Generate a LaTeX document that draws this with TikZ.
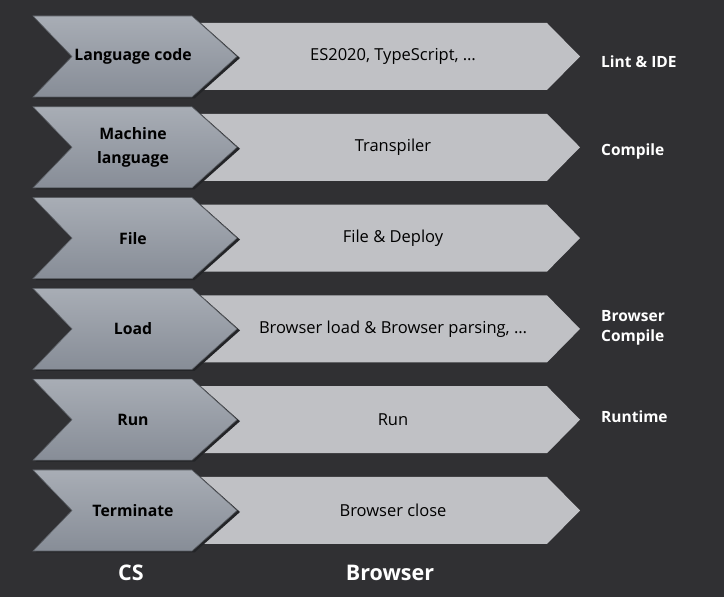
\documentclass[tikz,border=0pt]{standalone}
\usepackage{fontspec}
\setmainfont{Open Sans}
\definecolor{bg}{HTML}{303033}
\definecolor{lightfill}{HTML}{C0C1C5}
\definecolor{darktop}{HTML}{A8ADB5}
\definecolor{darkbot}{HTML}{878D97}
\definecolor{shadowc}{HTML}{232427}
\definecolor{edgec}{HTML}{5A5E64}
\tikzset{
  cslab/.style={font=\bfseries\fontsize{15.8}{23.5}\selectfont, text=black, align=center, inner sep=0pt},
  brlab/.style={font=\fontsize{16.5}{20}\selectfont, text=black, align=center, inner sep=0pt},
  sidelab/.style={font=\bfseries\fontsize{15.5}{20.5}\selectfont, text=white, align=left, anchor=west, inner sep=0pt},
  bottomlab/.style={font=\bfseries\fontsize{21.5}{24}\selectfont, text=white, inner sep=0pt},
  lightchev/.style={fill=lightfill},
  darkchev/.style={top color=darktop, bottom color=darkbot, draw=edgec, line width=0.6pt},
  shadowchev/.style={fill=shadowc}
}
\newcommand{\chevrow}[4]{%
  \pgfmathsetmacro{\cy}{597-(56.5+90.8*#1)}%
  \fill[lightchev] (150,\cy+33.5) -- (547,\cy+33.5) -- (580,\cy) -- (547,\cy-33.5) -- (150,\cy-33.5) -- cycle;
  \fill[shadowchev] (35.5,\cy+39) -- (194.5,\cy+39) -- (240,\cy-1.5) -- (194.5,\cy-42) -- (35.5,\cy-42) -- (74.5,\cy-1.5) -- cycle;
  \path[darkchev] (33,\cy+40.5) -- (192,\cy+40.5) -- (237,\cy) -- (192,\cy-40.5) -- (33,\cy-40.5) -- (72,\cy) -- cycle;
  \node[cslab] (cs#4) at (133,\cy) {#2};
  \node[brlab] (br#4) at (393,\cy) {#3};
}
\begin{document}
\begin{tikzpicture}[x=1pt,y=1pt]
\fill[bg] (0,0) rectangle (724,597);
\useasboundingbox (0,0) rectangle (724,597);
\chevrow{0}{Language code}{ES2020, TypeScript, \dots}{a}
\chevrow{1}{Machine\\language}{Transpiler}{b}
\chevrow{2}{File}{File \& Deploy}{c}
\chevrow{3}{Load}{Browser load \& Browser parsing, \dots}{d}
\chevrow{4}{Run}{Run}{e}
\chevrow{5}{Terminate}{Browser close}{f}
\node[sidelab] (lint) at (601,597-62) {Lint \& IDE};
\node[sidelab] (compile) at (601,597-151) {Compile};
\node[sidelab] (bcompile) at (601,597-328) {Browser\\Compile};
\node[sidelab] (runtime) at (601,597-417) {Runtime};
\node[bottomlab] (cslabel) at (131,597-573) {CS};
\node[bottomlab] (brlabel) at (390,597-573) {Browser};
\end{tikzpicture}
\end{document}
